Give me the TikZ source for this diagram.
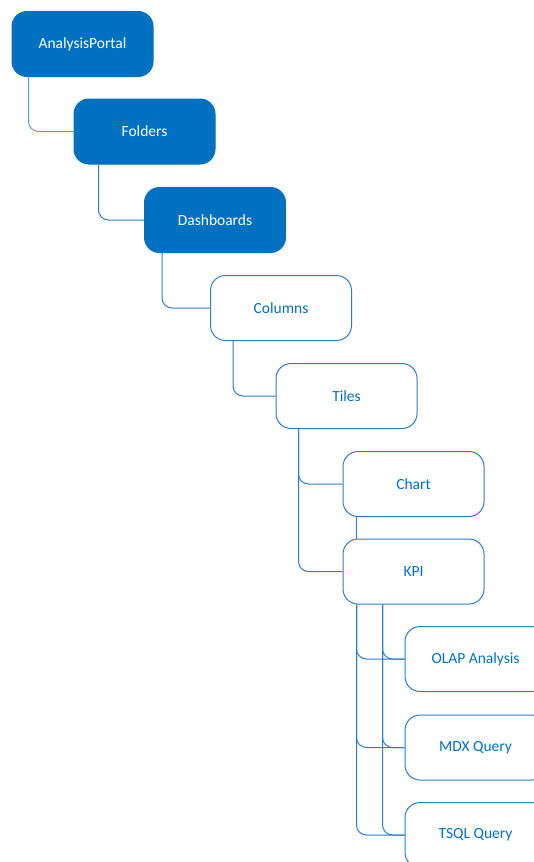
\documentclass[tikz,border=0pt]{standalone}
\usepackage{fontspec}
\setmainfont{Carlito}
\usetikzlibrary{positioning}
\definecolor{darkblue}{RGB}{0,112,192}
\definecolor{lineblue}{RGB}{46,125,200}
\definecolor{lightblue}{RGB}{91,155,213}

\tikzset{
  level/.style={rectangle, rounded corners=15pt, minimum width=141pt, minimum height=65pt,
    font=\fontsize{15.5}{18}\selectfont, line width=1pt},
  filled/.style={level, fill=darkblue, draw=darkblue, text=white},
  plain/.style={level, fill=white, draw=lineblue, text=darkblue},
  link/.style={draw=lineblue, line width=1pt, rounded corners=10pt}
}

\begin{document}
\begin{tikzpicture}[x=1pt,y=-1pt]
\clip (0,0) rectangle (534,862);
\fill[white] (0,0) rectangle (534,862);

% top levels
\node[filled] (portal) at (82.5,44) {AnalysisPortal};
\node[filled] (folders) at (144.5,131.5) {Folders};
\node[filled] (dash) at (215,220) {Dashboards};
\node[plain] (columns) at (281,308) {Columns};
\node[plain] (tiles) at (346.5,396) {Tiles};
\node[plain] (chart) at (413.5,484) {Chart};
\node[plain] (kpi) at (413.5,571.5) {KPI};

% queries
\node[plain] (olap) at (475.5,659) {OLAP Analysis};
\node[plain] (mdx) at (475.5,747.5) {MDX Query};
\node[plain] (tsql) at (475.5,835) {TSQL Query};

% connectors
\draw[link, draw=lightblue] ([xshift=17pt]portal.south west) |- (folders.west);
\draw[link] ([xshift=25pt]folders.south west) |- (dash.west);
\draw[link] ([xshift=18pt]dash.south west) |- (columns.west);
\draw[link] ([xshift=23pt]columns.south west) |- (tiles.west);
\draw[link] ([xshift=23pt]tiles.south west) |- (chart.west);
\draw[link] ([xshift=23pt]tiles.south west) |- (kpi.west);
\draw[link] ([xshift=14pt]chart.south west) -- ([xshift=14pt]kpi.north west);
\foreach \q in {olap,mdx,tsql} {
  \draw[link] ([xshift=14pt]kpi.south west) |- (\q.west);
  \draw[link] ([xshift=40pt]kpi.south west) |- (\q.west);
}
\end{tikzpicture}
\end{document}
